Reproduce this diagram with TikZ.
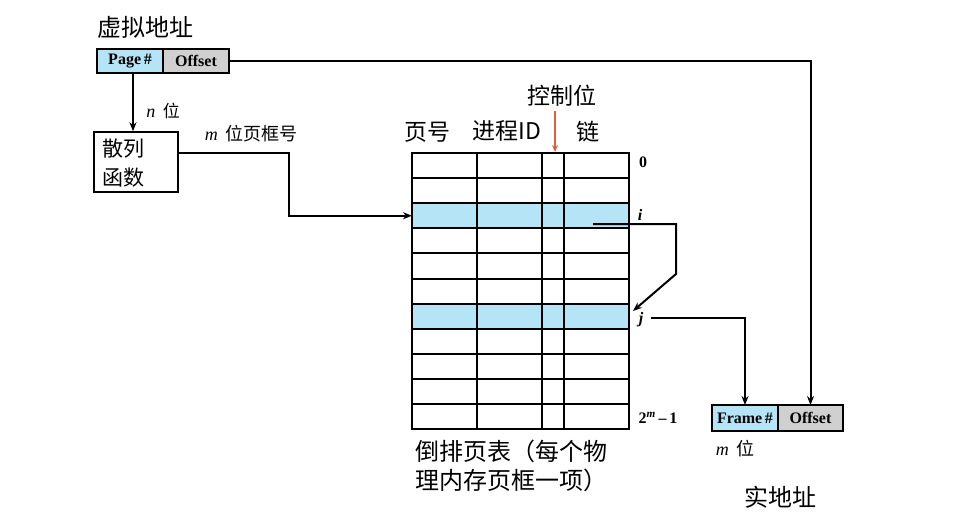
\documentclass[tikz,border=0pt]{standalone}
\usepackage{fontspec}
\setmainfont{Liberation Serif}
\newfontfamily\cjk{Noto Sans CJK SC}
\usetikzlibrary{arrows.meta,calc}
\definecolor{lblue}{RGB}{180,228,246}
\definecolor{lgray}{RGB}{208,208,208}
\definecolor{redarrow}{RGB}{228,96,60}
\begin{document}
\begin{tikzpicture}[x=1pt,y=-1pt,
  rowbox/.style={draw,line width=2pt,minimum width=217pt,minimum height=25.1pt,inner sep=0,outer sep=0},
  fld/.style={draw,line width=2.3pt,minimum height=24pt,inner sep=0,outer sep=0,font=\bfseries\fontsize{16}{16}\selectfont},
  cnbig/.style={font=\cjk\fontsize{24}{29}\selectfont,inner sep=0},
  cnmid/.style={font=\cjk\fontsize{23}{25}\selectfont,inner sep=0},
  cnsmall/.style={font=\fontsize{18}{18}\selectfont,inner sep=0},
  rlab/.style={font=\bfseries\fontsize{16}{16}\selectfont,inner sep=0},
  conn/.style={line width=2pt,-{Stealth[length=9pt,width=7pt]}},
  ]
\useasboundingbox (0,0) rectangle (956,525);
% virtual address
\node[cnbig] (vtitle) at (145,27) {虚拟地址};
\node[fld,fill=lblue,minimum width=66pt] (vpage) at (130,61) {Page\,\#};
\node[fld,fill=lgray,minimum width=66pt,anchor=west] (voff) at (vpage.east) {Offset};
% hash
\node[draw,line width=1.5pt,minimum width=84pt,minimum height=60pt,inner sep=0] (hash) at (136,162) {};
\node[font=\cjk\fontsize{21}{29}\selectfont,inner sep=0,anchor=west,align=left] (hashtxt) at (102,163) {散列\\函数};
\node[cnsmall] (nbit) at (163,111) {\textit{n}\, {\cjk\fontsize{17}{17}\selectfont 位}};
\node[cnsmall] (mbit) at (251,134) {\textit{m}\, {\cjk\fontsize{18}{18}\selectfont 位页框号}};
% table
\foreach \k in {0,...,10} {
  \ifnum\k=2 \def\fc{lblue}\else\ifnum\k=6 \def\fc{lblue}\else\def\fc{white}\fi\fi
  \node[rowbox,fill=\fc,anchor=north west] (r\k) at (412,{153+25.1*\k}) {};
}
\foreach \x in {477,542,564} {
  \draw[line width=2pt] (\x,153) -- (\x,429.1);
}
\draw[line width=2pt] (r0.north west) rectangle (r10.south east);
% headers
\node[cnmid] (h1) at (427,132) {页号};
\node[cnmid] (h2) at (507,131) {进程ID};
\node[cnmid] (h3) at (588,132) {链};
\node[cnmid] (h4) at (562,96) {控制位};
\coordinate (ctrltop) at (555,111);
\coordinate (ctrlbot) at (555,152);
\draw[redarrow,line width=1.3pt,-{Stealth[length=7pt,width=6pt]}] (ctrltop) -- (ctrlbot);
% row labels
\node[rlab] (l0) at (643,162) {0};
\node[rlab,font=\bfseries\itshape\fontsize{16}{16}\selectfont] (li) at (640,215) {i};
\node[rlab,font=\bfseries\itshape\fontsize{16}{16}\selectfont] (lj) at (641,320) {j};
\node[rlab] (lm) at (658,418) {2\textsuperscript{\textit{m}}\,--\,1};
% caption
\node[cnbig,anchor=west,align=left] (cap) at (415,466) {倒排页表（每个物\\理内存页框一项）};
% physical address
\node[fld,fill=lblue,minimum width=66pt,minimum height=26pt] (pframe) at (745,418) {Frame\,\#};
\node[fld,fill=lgray,minimum width=65pt,minimum height=26pt,anchor=west] (poff) at (pframe.east) {Offset};
\node[cnsmall] (mbit2) at (735,449) {\textit{m}\, {\cjk\fontsize{18}{18}\selectfont 位}};
\node[cnbig] (ptitle) at (780,497) {实地址};
% connectors
\draw[conn] (vpage.south -| 133,0) -- (hash.north -| 133,0);
\draw[conn] ([yshift=9pt]hash.east) -- (289,153) |- (r2.west);
\draw[conn] (voff.east) -| (poff.north);
\coordinate (istart) at (593,224);
\coordinate (ibend1) at (676,224);
\coordinate (ibend2) at (676,274);
\coordinate (jtip) at (633,311);
\draw[conn] (istart) -- (ibend1) -- (ibend2) -- (jtip);
\coordinate (jstart) at (651,318);
\draw[conn] (jstart) -| (pframe.north);
\end{tikzpicture}
\end{document}
